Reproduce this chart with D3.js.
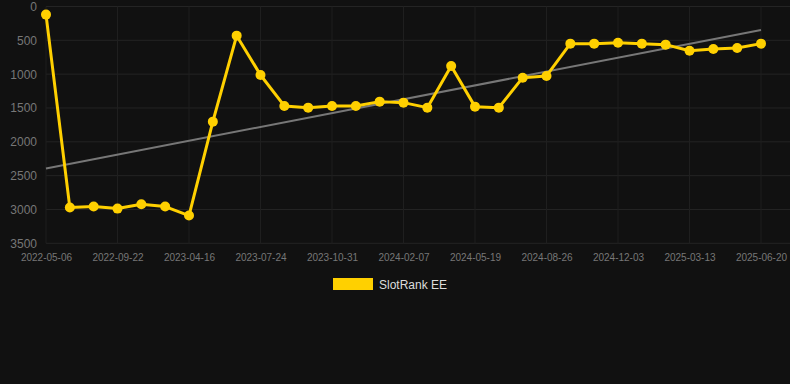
<!DOCTYPE html>
<html><head><meta charset="utf-8">
<script src="https://cdn.jsdelivr.net/npm/d3@7"></script>
<style>html,body{margin:0;padding:0;background:#111111;}svg{display:block;}</style>
</head><body>
<svg id="c" width="790" height="384"></svg>
<script>
const dates = ["2022-05-06","2022-06-17","2022-07-30","2022-09-22","2022-11-03","2022-12-15","2023-04-16","2023-05-20","2023-06-21","2023-07-24","2023-08-26","2023-09-28","2023-10-31","2023-12-02","2024-01-04","2024-02-07","2024-03-10","2024-04-14","2024-05-19","2024-06-21","2024-07-24","2024-08-26","2024-09-28","2024-10-31","2024-12-03","2025-01-05","2025-02-08","2025-03-13","2025-04-14","2025-05-17","2025-06-20"];
const values = [120,2972,2957,2987,2922,2957,3090,1702,431,1012,1470,1495,1470,1470,1406,1421,1495,879,1480,1495,1052,1027,549,549,535,549,564,653,628,613,549];
const yTicks = [0,500,1000,1500,2000,2500,3000,3500];
const seriesName = "SlotRank EE";

const svg = d3.select("#c");
const pL = 46, pR = 761, pT = 6.5, pB = 243.3;
const x = d3.scalePoint().domain(dates).range([pL, pR]);
const y = d3.scaleLinear().domain([0, 3500]).range([pT, pB]);

// grid
svg.append("g").selectAll("line").data(yTicks).join("line")
  .attr("x1", pL).attr("x2", 790).attr("y1", d => y(d)).attr("y2", d => y(d))
  .attr("stroke", "#242424").attr("stroke-width", 1);
const xTickDates = dates.filter((d, i) => i % 3 === 0);
svg.append("g").selectAll("line").data(xTickDates).join("line")
  .attr("x1", d => x(d)).attr("x2", d => x(d)).attr("y1", pT).attr("y2", pB)
  .attr("stroke", "#1f1f1f").attr("stroke-width", 1);

// y axis labels
const yAxis = d3.axisLeft(y).tickValues(yTicks).tickSize(0).tickPadding(0).tickFormat(d => d);
const gy = svg.append("g").attr("transform", "translate(37,0)").call(yAxis);
gy.select(".domain").remove();
gy.selectAll("text").attr("fill", "#777").attr("font-family", "Arial, 'Liberation Sans', sans-serif").attr("font-size", 12);

// x axis labels
const xAxis = d3.axisBottom(x).tickValues(xTickDates).tickSize(0).tickPadding(0);
const gx = svg.append("g").attr("transform", "translate(0,254)").call(xAxis);
gx.select(".domain").remove();
gx.selectAll("text").attr("fill", "#777").attr("font-family", "Arial, 'Liberation Sans', sans-serif").attr("font-size", 10);

// trend line via least squares
const n = values.length;
const xm = (n - 1) / 2, ym = d3.mean(values);
let sxy = 0, sxx = 0;
values.forEach((v, i) => { sxy += (i - xm) * (v - ym); sxx += (i - xm) * (i - xm); });
const slope = sxy / sxx, intercept = ym - slope * xm;
svg.append("line")
  .attr("x1", x(dates[0])).attr("y1", y(intercept))
  .attr("x2", x(dates[n - 1])).attr("y2", y(intercept + slope * (n - 1)))
  .attr("stroke", "#777").attr("stroke-width", 2);

// series line
const line = d3.line().x((d, i) => x(dates[i])).y(d => y(d));
svg.append("path").datum(values).attr("d", line)
  .attr("fill", "none").attr("stroke", "#FFD000").attr("stroke-width", 3).attr("stroke-linejoin", "round");
svg.append("g").selectAll("circle").data(values).join("circle")
  .attr("cx", (d, i) => x(dates[i])).attr("cy", d => y(d)).attr("r", 5)
  .attr("fill", "#FFD000");

// legend
svg.append("rect").attr("x", 333).attr("y", 278).attr("width", 40).attr("height", 12).attr("fill", "#FFD000");
svg.append("text").attr("x", 379).attr("y", 289).text(seriesName)
  .attr("fill", "#ddd").attr("font-family", "Arial, 'Liberation Sans', sans-serif").attr("font-size", 12);
</script>
</body></html>
